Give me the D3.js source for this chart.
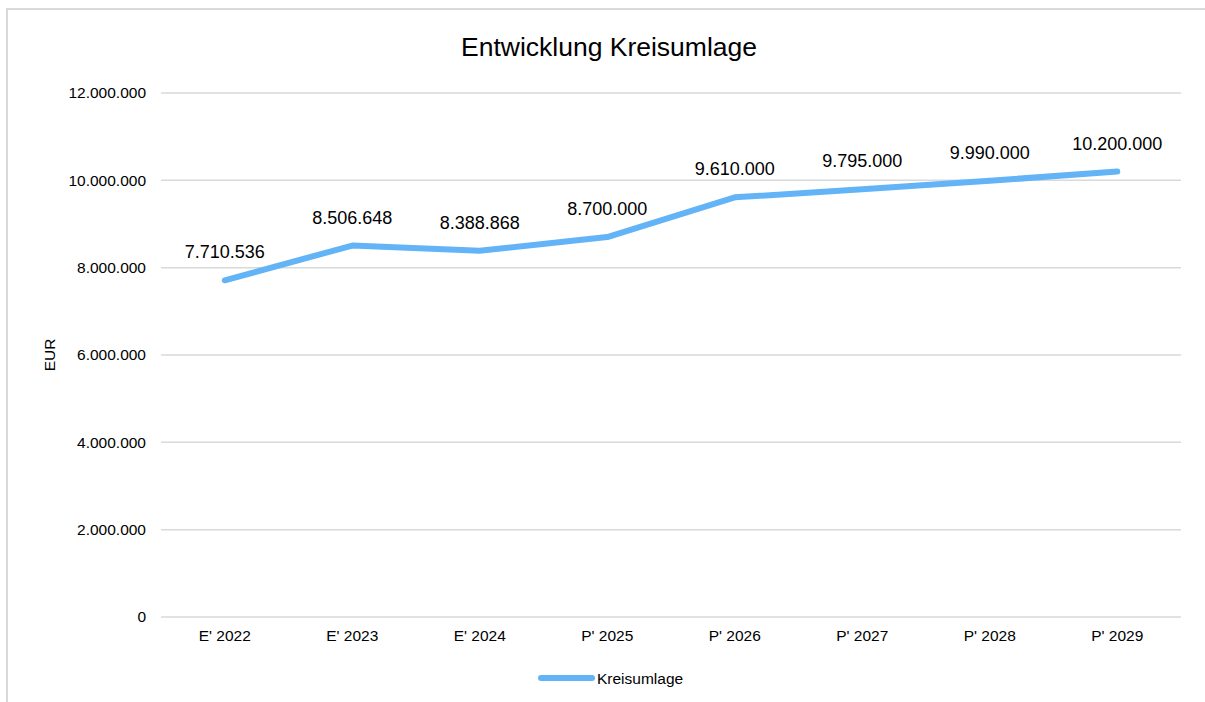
<!DOCTYPE html>
<html><head><meta charset="utf-8">
<script src="https://cdn.jsdelivr.net/npm/d3@7"></script>
<style>body{margin:0;background:#fff}svg{display:block;font-family:"Liberation Sans",Arial,sans-serif}</style>
</head><body>
<svg id="c" width="1205" height="702"></svg>
<script>
const categories = ["E' 2022","E' 2023","E' 2024","P' 2025","P' 2026","P' 2027","P' 2028","P' 2029"];
const values = [7710536, 8506648, 8388868, 8700000, 9610000, 9795000, 9990000, 10200000];
const yTicks = [0, 2000000, 4000000, 6000000, 8000000, 10000000, 12000000];
const seriesName = "Kreisumlage";
const title = "Entwicklung Kreisumlage";
const yTitle = "EUR";

const svg = d3.select("#c");
const fmt = d => d3.format(",")(d).replace(/,/g, ".");
const lineColor = "#63b4f6";

// chart border
svg.append("rect").attr("x",7).attr("y",9).attr("width",1230).attr("height",720)
  .attr("fill","none").attr("stroke","#d9d9d9").attr("stroke-width",2);

const x = d3.scaleBand().domain(categories).range([161,1181]);
const y = d3.scaleLinear().domain([0,12000000]).range([617,93]);

// gridlines
svg.append("g").selectAll("line").data(yTicks).join("line")
  .attr("x1",161).attr("x2",1181).attr("y1",d=>y(d)).attr("y2",d=>y(d))
  .attr("stroke","#d9d9d9").attr("stroke-width",1.5);

// y axis labels
const yAxis = d3.axisLeft(y).tickValues(yTicks).tickFormat(fmt).tickSize(0).tickPadding(15);
const ya = svg.append("g").attr("transform","translate(161,0)").call(yAxis);
ya.select(".domain").remove();
ya.selectAll("text").attr("font-size","15.5px").attr("fill","#000").attr("font-family","Liberation Sans, Arial, sans-serif");

// x axis labels
const xAxis = d3.axisBottom(x).tickSize(0).tickPadding(13);
const xa = svg.append("g").attr("transform","translate(0,617)").call(xAxis);
xa.select(".domain").remove();
xa.selectAll("text").attr("font-size","15.5px").attr("fill","#000").attr("font-family","Liberation Sans, Arial, sans-serif");

// line
const line = d3.line().x((d,i)=>x(categories[i])+x.bandwidth()/2).y(d=>y(d));
svg.append("path").datum(values).attr("d",line).attr("fill","none")
  .attr("stroke",lineColor).attr("stroke-width",6).attr("stroke-linecap","round").attr("stroke-linejoin","round");

// data labels
svg.append("g").selectAll("text").data(values).join("text")
  .attr("x",(d,i)=>x(categories[i])+x.bandwidth()/2)
  .attr("y",d=>y(d)-22)
  .attr("text-anchor","middle").attr("font-size","18px").attr("fill","#000")
  .text(fmt);

// title
svg.append("text").attr("x",609).attr("y",56).attr("text-anchor","middle")
  .attr("font-size","26.5px").attr("fill","#000").text(title);

// y title
svg.append("text").attr("transform","translate(55,355) rotate(-90)")
  .attr("text-anchor","middle").attr("font-size","15.5px").attr("fill","#000").text(yTitle);

// legend
svg.append("line").attr("x1",541).attr("x2",592).attr("y1",678).attr("y2",678)
  .attr("stroke",lineColor).attr("stroke-width",6).attr("stroke-linecap","round");
svg.append("text").attr("x",597).attr("y",684).attr("font-size","15.5px").attr("fill","#000").text(seriesName);
</script>
</body></html>
